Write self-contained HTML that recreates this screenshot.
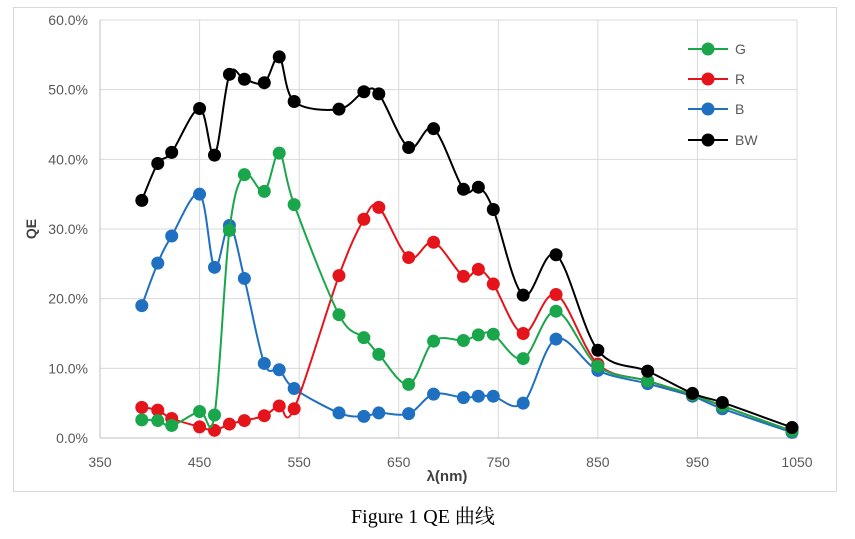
<!DOCTYPE html>
<html><head><meta charset="utf-8"><style>
body{margin:0;background:#fff;width:855px;height:534px;overflow:hidden}
svg text{font-family:"Liberation Sans","DejaVu Sans",sans-serif}
</style></head><body>
<svg id="s" width="855" height="534" xmlns="http://www.w3.org/2000/svg">
<rect x="13.5" y="7.5" width="823" height="484" fill="#fff" stroke="#d9d9d9" stroke-width="1"/>
<g id="grid" stroke="#d9d9d9" stroke-width="1"></g>
<g id="lab" font-size="14" fill="#595959"></g>
<text x="36" y="229" font-size="14" font-weight="bold" fill="#404040" transform="rotate(-90 36 229)" text-anchor="middle">QE</text>
<text x="447" y="481" font-size="15" font-weight="bold" fill="#404040" text-anchor="middle">λ(nm)</text>
<g id="series"></g>
<g id="leg"></g>
<text x="423" y="523" font-size="20" fill="#000" text-anchor="middle" style="font-family:'Liberation Serif','Noto Serif CJK SC',serif">Figure 1 QE 曲线</text>
</svg>
<script>
const X0=100,X1=797,Y0=438,Y1=20;
const px=n=>X0+(n-350)*(X1-X0)/700, py=v=>Y0-v*(Y0-Y1)/60;
const ns="http://www.w3.org/2000/svg";
function el(t,a,p){const e=document.createElementNS(ns,t);for(const k in a)e.setAttribute(k,a[k]);p.appendChild(e);return e;}
const g=document.getElementById('grid'),lab=document.getElementById('lab');
for(let v=0;v<=60;v+=10){const y=py(v);el('line',{x1:X0,x2:X1,y1:y,y2:y},g);const t=el('text',{x:88,y:y+5,'text-anchor':'end'},lab);t.textContent=v.toFixed(1)+'%';}
for(let n=350;n<=1050;n+=100){const x=px(n);el('line',{x1:x,x2:x,y1:Y1,y2:Y0},g);const t=el('text',{x:x,y:467,'text-anchor':'middle'},lab);t.textContent=n;}
el('line',{x1:X0,x2:X0,y1:Y1,y2:Y0,stroke:'#bfbfbf'},g);el('line',{x1:X0,x2:X1,y1:Y0,y2:Y0,stroke:'#bfbfbf'},g);
const nm=[392,408,422,450,465,480,495,515,530,545,590,615,630,660,685,715,730,745,775,808,850,900,945,975,1045];
const S={
G:['#1aa64b',[2.6,2.5,1.8,3.8,3.3,29.8,37.8,35.4,40.9,33.5,17.7,14.4,12,7.7,13.9,14,14.8,14.9,11.4,18.2,10.3,8.2,6.2,4.6,1.0]],
R:['#e5141b',[4.4,4.0,2.8,1.6,1.1,2.0,2.5,3.2,4.6,4.2,23.3,31.4,33.1,25.9,28.1,23.2,24.2,22.1,15.0,20.6,10.6,8.2,6.2,4.6,1.0]],
B:['#1f70c1',[19,25.1,29,35,24.5,30.5,22.9,10.7,9.8,7.1,3.6,3.1,3.6,3.5,6.3,5.8,6,6,5,14.2,9.7,7.8,6.0,4.2,0.8]],
BW:['#000',[34.1,39.4,41,47.3,40.6,52.2,51.5,51,54.7,48.3,47.2,49.7,49.4,41.7,44.4,35.7,36,32.8,20.5,26.3,12.6,9.6,6.4,5.1,1.5]]};
const sg=document.getElementById('series');
for(const k of ['B','R','G','BW']){const [c,d]=S[k];const P=nm.map((n,i)=>[px(n),py(d[i])]);
let p='M'+P[0][0]+','+P[0][1];
for(let i=0;i<P.length-1;i++){const a=P[i-1]||P[i],b=P[i],c2=P[i+1],e=P[i+2]||c2;const f=1/6;
p+=` C${b[0]+(c2[0]-a[0])*f},${b[1]+(c2[1]-a[1])*f} ${c2[0]-(e[0]-b[0])*f},${c2[1]-(e[1]-b[1])*f} ${c2[0]},${c2[1]}`;}
el('path',{d:p,fill:'none',stroke:c,'stroke-width':2},sg);
P.forEach(q=>el('circle',{cx:q[0],cy:q[1],r:6.5,fill:c},sg));}
const lg=document.getElementById('leg');
[['G',49],['R',79],['B',109],['BW',140]].forEach(([k,y])=>{const c=S[k][0];
el('line',{x1:688,x2:728,y1:y,y2:y,stroke:c,'stroke-width':2},lg);el('circle',{cx:708,cy:y,r:6.5,fill:c},lg);
const t=el('text',{x:735,y:y+5,'font-size':14,fill:'#595959'},lg);t.textContent=k;});
</script>
</body></html>
